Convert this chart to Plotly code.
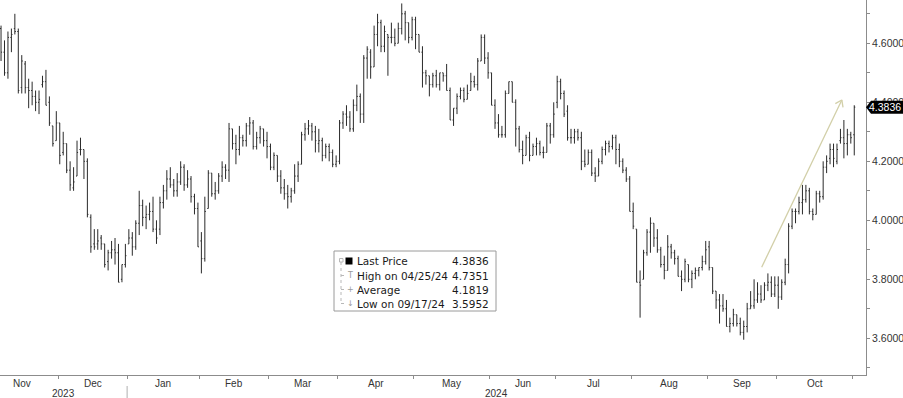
import plotly.graph_objects as go

# ---------------- data (US 10Y yield, daily OHLC bars) ----------------
month_labels = ["Nov", "Dec", "Jan", "Feb", "Mar", "Apr", "May", "Jun", "Jul", "Aug", "Sep", "Oct"]
year_labels = ["2023", "2024"]
nov_days_before_window = 4  # Nov 2023 sessions that fall before the first bar

nov23 = [(4.65, 4.66, 4.54, 4.57), (4.57, 4.61, 4.49, 4.50), (4.50, 4.64, 4.48, 4.62), (4.62, 4.65, 4.57, 4.63),
         (4.65, 4.70, 4.63, 4.64), (4.64, 4.65, 4.43, 4.44), (4.45, 4.56, 4.43, 4.54), (4.53, 4.54, 4.43, 4.45),
         (4.45, 4.48, 4.38, 4.44), (4.44, 4.47, 4.39, 4.42), (4.42, 4.44, 4.37, 4.40), (4.40, 4.44, 4.36, 4.41),
         (4.46, 4.49, 4.45, 4.47), (4.47, 4.51, 4.39, 4.39), (4.40, 4.42, 4.32, 4.33), (4.32, 4.32, 4.25, 4.26),
         (4.27, 4.37, 4.27, 4.33)]
dec23 = [(4.33, 4.33, 4.19, 4.22), (4.23, 4.30, 4.22, 4.26), (4.26, 4.26, 4.16, 4.17), (4.17, 4.20, 4.10, 4.12),
         (4.11, 4.18, 4.10, 4.13), (4.15, 4.27, 4.15, 4.23), (4.24, 4.28, 4.22, 4.24), (4.24, 4.24, 4.14, 4.20),
         (4.20, 4.21, 4.01, 4.02), (4.01, 4.02, 3.89, 3.91), (3.92, 3.97, 3.90, 3.91), (3.92, 3.97, 3.90, 3.93),
         (3.94, 3.95, 3.90, 3.92), (3.92, 3.92, 3.84, 3.85), (3.86, 3.90, 3.83, 3.89), (3.89, 3.93, 3.87, 3.90),
         (3.90, 3.94, 3.85, 3.89), (3.89, 3.92, 3.79, 3.79), (3.80, 3.85, 3.79, 3.85), (3.85, 3.92, 3.84, 3.88)]
jan24 = [(3.92, 3.97, 3.92, 3.94), (3.94, 3.96, 3.88, 3.91), (3.91, 4.00, 3.90, 3.99), (3.99, 4.10, 3.95, 4.05),
         (4.05, 4.07, 3.98, 4.01), (4.01, 4.05, 3.97, 4.02), (4.02, 4.06, 4.00, 4.03), (4.03, 4.08, 3.96, 3.97),
         (3.97, 4.00, 3.92, 3.94), (3.97, 4.08, 3.95, 4.06), (4.06, 4.12, 4.04, 4.10), (4.10, 4.17, 4.07, 4.14),
         (4.14, 4.18, 4.11, 4.12), (4.12, 4.14, 4.08, 4.10), (4.10, 4.16, 4.08, 4.13), (4.13, 4.20, 4.12, 4.18),
         (4.18, 4.19, 4.10, 4.12), (4.12, 4.17, 4.11, 4.14), (4.14, 4.15, 4.06, 4.08), (4.08, 4.09, 4.02, 4.04),
         (4.04, 4.06, 3.91, 3.91)]
feb24 = [(3.93, 3.96, 3.82, 3.87), (3.87, 4.08, 3.86, 4.03), (4.04, 4.17, 4.04, 4.16), (4.16, 4.16, 4.08, 4.09),
         (4.09, 4.13, 4.07, 4.10), (4.10, 4.16, 4.09, 4.15), (4.15, 4.20, 4.13, 4.18), (4.18, 4.19, 4.14, 4.17),
         (4.17, 4.33, 4.13, 4.31), (4.31, 4.31, 4.24, 4.26), (4.26, 4.29, 4.19, 4.24), (4.24, 4.32, 4.22, 4.28),
         (4.28, 4.29, 4.25, 4.27), (4.27, 4.33, 4.25, 4.32), (4.32, 4.35, 4.29, 4.33), (4.33, 4.34, 4.24, 4.25),
         (4.25, 4.30, 4.24, 4.28), (4.28, 4.32, 4.26, 4.31), (4.31, 4.31, 4.25, 4.27), (4.27, 4.30, 4.21, 4.25)]
mar24 = [(4.25, 4.26, 4.17, 4.18), (4.18, 4.23, 4.17, 4.22), (4.22, 4.22, 4.13, 4.15), (4.15, 4.17, 4.09, 4.11),
         (4.11, 4.14, 4.07, 4.09), (4.09, 4.12, 4.04, 4.08), (4.08, 4.11, 4.06, 4.10), (4.10, 4.19, 4.09, 4.15),
         (4.15, 4.20, 4.13, 4.19), (4.19, 4.30, 4.19, 4.29), (4.29, 4.33, 4.27, 4.31), (4.31, 4.34, 4.29, 4.32),
         (4.32, 4.33, 4.27, 4.30), (4.30, 4.32, 4.23, 4.27), (4.26, 4.31, 4.23, 4.27), (4.27, 4.28, 4.20, 4.22),
         (4.22, 4.26, 4.21, 4.25), (4.25, 4.26, 4.20, 4.23), (4.23, 4.24, 4.18, 4.19), (4.19, 4.22, 4.18, 4.20)]
apr24 = [(4.20, 4.34, 4.19, 4.33), (4.33, 4.37, 4.31, 4.36), (4.36, 4.39, 4.32, 4.35), (4.35, 4.37, 4.30, 4.31),
         (4.31, 4.41, 4.30, 4.39), (4.39, 4.46, 4.37, 4.42), (4.42, 4.43, 4.33, 4.36), (4.36, 4.56, 4.33, 4.55),
         (4.55, 4.59, 4.48, 4.58), (4.57, 4.58, 4.48, 4.52), (4.52, 4.66, 4.52, 4.63), (4.63, 4.70, 4.59, 4.67),
         (4.67, 4.68, 4.57, 4.59), (4.59, 4.66, 4.57, 4.64), (4.63, 4.63, 4.49, 4.62), (4.62, 4.67, 4.60, 4.62),
         (4.62, 4.65, 4.59, 4.60), (4.60, 4.67, 4.60, 4.65), (4.65, 4.7351, 4.63, 4.70), (4.70, 4.71, 4.61, 4.67),
         (4.67, 4.67, 4.60, 4.62), (4.62, 4.69, 4.61, 4.68)]
may24 = [(4.68, 4.69, 4.58, 4.63), (4.63, 4.63, 4.57, 4.57), (4.57, 4.59, 4.45, 4.50), (4.50, 4.51, 4.46, 4.49),
         (4.49, 4.49, 4.42, 4.46), (4.46, 4.50, 4.45, 4.49), (4.49, 4.51, 4.45, 4.46), (4.46, 4.50, 4.44, 4.50),
         (4.50, 4.50, 4.47, 4.49), (4.49, 4.53, 4.44, 4.44), (4.44, 4.45, 4.34, 4.34), (4.34, 4.38, 4.32, 4.38),
         (4.38, 4.43, 4.36, 4.42), (4.42, 4.45, 4.41, 4.44), (4.44, 4.45, 4.40, 4.41), (4.41, 4.46, 4.41, 4.43),
         (4.44, 4.50, 4.44, 4.47), (4.47, 4.49, 4.45, 4.46), (4.46, 4.55, 4.44, 4.54), (4.54, 4.63, 4.54, 4.62),
         (4.62, 4.63, 4.53, 4.55), (4.55, 4.57, 4.48, 4.50)]
jun24 = [(4.50, 4.50, 4.39, 4.39), (4.39, 4.41, 4.31, 4.33), (4.33, 4.36, 4.28, 4.29), (4.29, 4.32, 4.28, 4.29),
         (4.29, 4.44, 4.28, 4.43), (4.43, 4.47, 4.43, 4.47), (4.47, 4.47, 4.40, 4.40), (4.40, 4.41, 4.25, 4.31),
         (4.31, 4.32, 4.23, 4.24), (4.24, 4.27, 4.19, 4.22), (4.22, 4.29, 4.22, 4.28), (4.28, 4.30, 4.20, 4.22),
         (4.22, 4.26, 4.22, 4.25), (4.25, 4.28, 4.22, 4.26), (4.26, 4.27, 4.22, 4.23), (4.23, 4.25, 4.21, 4.23),
         (4.23, 4.33, 4.23, 4.32), (4.32, 4.33, 4.26, 4.29), (4.29, 4.40, 4.28, 4.36)]
jul24 = [(4.40, 4.49, 4.38, 4.47), (4.47, 4.48, 4.41, 4.43), (4.43, 4.44, 4.35, 4.36), (4.37, 4.39, 4.27, 4.28),
         (4.28, 4.31, 4.26, 4.28), (4.28, 4.31, 4.26, 4.30), (4.30, 4.31, 4.27, 4.28), (4.28, 4.30, 4.17, 4.20),
         (4.20, 4.24, 4.18, 4.19), (4.19, 4.24, 4.19, 4.23), (4.23, 4.24, 4.15, 4.16), (4.16, 4.18, 4.13, 4.15),
         (4.15, 4.21, 4.15, 4.20), (4.20, 4.25, 4.19, 4.24), (4.24, 4.27, 4.22, 4.26), (4.26, 4.27, 4.23, 4.25),
         (4.25, 4.29, 4.24, 4.28), (4.28, 4.29, 4.19, 4.24), (4.24, 4.26, 4.18, 4.20), (4.20, 4.21, 4.16, 4.17),
         (4.17, 4.18, 4.13, 4.14), (4.14, 4.15, 4.03, 4.03)]
aug24 = [(4.03, 4.06, 3.97, 3.98), (3.97, 3.97, 3.79, 3.79), (3.79, 3.83, 3.67, 3.78), (3.80, 3.90, 3.80, 3.89),
         (3.89, 3.97, 3.88, 3.96), (3.96, 4.01, 3.89, 3.99), (3.99, 3.99, 3.91, 3.94), (3.94, 3.97, 3.89, 3.90),
         (3.90, 3.91, 3.84, 3.85), (3.85, 3.88, 3.80, 3.83), (3.83, 3.95, 3.83, 3.91), (3.91, 3.92, 3.87, 3.89),
         (3.89, 3.90, 3.85, 3.87), (3.87, 3.88, 3.81, 3.81), (3.81, 3.83, 3.76, 3.80), (3.80, 3.87, 3.79, 3.86),
         (3.85, 3.85, 3.79, 3.80), (3.80, 3.83, 3.77, 3.82), (3.82, 3.84, 3.80, 3.83), (3.83, 3.84, 3.81, 3.84),
         (3.84, 3.88, 3.83, 3.86), (3.86, 3.93, 3.85, 3.90)]
sep24 = [(3.91, 3.93, 3.83, 3.84), (3.84, 3.84, 3.75, 3.76), (3.76, 3.76, 3.70, 3.73), (3.73, 3.75, 3.65, 3.71),
         (3.71, 3.75, 3.69, 3.70), (3.70, 3.73, 3.64, 3.64), (3.64, 3.67, 3.62, 3.65), (3.65, 3.70, 3.64, 3.68),
         (3.68, 3.68, 3.64, 3.65), (3.65, 3.67, 3.61, 3.62), (3.62, 3.66, 3.5952, 3.64), (3.64, 3.72, 3.62, 3.70),
         (3.70, 3.76, 3.70, 3.71), (3.71, 3.80, 3.70, 3.73), (3.73, 3.79, 3.72, 3.75), (3.75, 3.78, 3.72, 3.73),
         (3.73, 3.79, 3.73, 3.78), (3.78, 3.82, 3.76, 3.79), (3.79, 3.81, 3.74, 3.75), (3.75, 3.81, 3.74, 3.78)]
oct24 = [(3.78, 3.81, 3.70, 3.74), (3.74, 3.80, 3.73, 3.79), (3.79, 3.87, 3.78, 3.85), (3.85, 3.99, 3.82, 3.98),
         (3.98, 4.04, 3.97, 4.03), (4.03, 4.04, 3.99, 4.03), (4.03, 4.08, 4.02, 4.06), (4.06, 4.12, 4.02, 4.07),
         (4.07, 4.12, 4.06, 4.10), (4.10, 4.11, 4.02, 4.03), (4.03, 4.04, 4.00, 4.02), (4.02, 4.10, 4.02, 4.09),
         (4.09, 4.10, 4.06, 4.08), (4.08, 4.20, 4.07, 4.18), (4.18, 4.22, 4.16, 4.20), (4.21, 4.26, 4.19, 4.24),
         (4.24, 4.26, 4.18, 4.21), (4.20, 4.26, 4.19, 4.24), (4.27, 4.31, 4.26, 4.28), (4.28, 4.34, 4.21, 4.26),
         (4.26, 4.31, 4.22, 4.29), (4.29, 4.30, 4.26, 4.28)]
nov24 = [(4.29, 4.39, 4.22, 4.3836)]

y_tick_values = [3.6, 3.8, 4.0, 4.2, 4.4, 4.6]
y_minor_values = [3.5, 3.7, 3.9, 4.1, 4.3, 4.5, 4.7]

legend_rows = [("Last Price", "4.3836"), ("High on 04/25/24", "4.7351"),
               ("Average", "4.1819"), ("Low on 09/17/24", "3.5952")]

# ---------------- derived ----------------
months = [nov23, dec23, jan24, feb24, mar24, apr24, may24, jun24, jul24, aug24, sep24, oct24]
bars = [b for m in months for b in m] + nov24
opens = [b[0] for b in bars]
highs = [b[1] for b in bars]
lows = [b[2] for b in bars]
closes = [b[3] for b in bars]
xs = list(range(len(bars)))

month_starts, s = [], 0
for m in months:
    month_starts.append(s)
    s += len(m)
month_ends = [st + len(m) - 1 for st, m in zip(month_starts, months)]
boundaries = [e + 0.5 for e in month_ends]
label_centers = []
for i, (st, en) in enumerate(zip(month_starts, month_ends)):
    first = st - nov_days_before_window if i == 0 else st
    label_centers.append((first + en) / 2)

# ---------------- geometry ----------------
W, H = 903, 398
ML, MR, MT, MB = 0, 37, 0, 23
PW, PH = W - ML - MR, H - MT - MB
X0, X1 = -0.3, 250.4
Y0, Y1 = 3.4756, 4.7468
pxx = PW / (X1 - X0)
pxy = PH / (Y1 - Y0)


def px(xp):
    return xp / PW


def py(yp):
    return 1 - yp / PH


BAR = "#2a2a2a"
AX = "#8c8c8c"
TXT = "#333333"
AXFONT = dict(family="Liberation Sans, Arial, sans-serif", size=10.5, color=TXT)
XFONT = dict(family="Liberation Sans, Arial, sans-serif", size=10, color=TXT)

fig = go.Figure(go.Ohlc(
    x=xs, open=opens, high=highs, low=lows, close=closes,
    increasing=dict(line=dict(color=BAR, width=1)),
    decreasing=dict(line=dict(color=BAR, width=1)),
    tickwidth=0.3, showlegend=False, hoverinfo="skip"))

fig.update_layout(
    width=W, height=H, margin=dict(l=ML, r=MR, t=MT, b=MB),
    paper_bgcolor="white", plot_bgcolor="white", showlegend=False,
    xaxis=dict(range=[X0, X1], showgrid=False, zeroline=False, showline=True, linecolor=AX,
               linewidth=1, tickmode="array", tickvals=boundaries, ticks="outside", ticklen=3,
               tickcolor=AX, showticklabels=False, rangeslider=dict(visible=False)),
    yaxis=dict(range=[Y0, Y1], side="right", showgrid=False, zeroline=False, showline=True,
               linecolor=AX, linewidth=1, tickmode="array", tickvals=y_tick_values,
               ticktext=[f"{v:.4f}" for v in y_tick_values], ticks="outside", ticklen=3,
               tickcolor=AX, tickfont=AXFONT, ticklabelstandoff=0, automargin=False,
               minor=dict(tickvals=y_minor_values, ticks="outside", ticklen=3, tickcolor=AX)),
)

ann = []
shapes = []
for lab, c in zip(month_labels, label_centers):
    ann.append(dict(x=c, xref="x", y=0, yref="paper", text=lab, showarrow=False,
                    yanchor="middle", yshift=-8, font=XFONT))
year_spans = [(X0, boundaries[1]), (boundaries[1], X1)]
for lab, (a, b) in zip(year_labels, year_spans):
    ann.append(dict(x=(a + b) / 2, xref="x", y=0, yref="paper", text=lab, showarrow=False,
                    yanchor="middle", yshift=-18, font=XFONT))
shapes.append(dict(type="line", xref="x", yref="paper", x0=boundaries[1], x1=boundaries[1],
                   y0=py(386), y1=py(398), line=dict(color="#b0b0b0", width=1)))

# trend arrow
ax0, ay0 = 220.2, 3.841
ax1, ay1 = 243.4, 4.408
ARC = "#d2cfa8"
shapes.append(dict(type="line", xref="x", yref="y", x0=ax0, y0=ay0, x1=ax1, y1=ay1,
                   line=dict(color=ARC, width=1.3)))
for wx, wy in [(-6.5, 3.7), (1.2, 7.4)]:
    shapes.append(dict(type="line", xref="x", yref="y", x0=ax1, y0=ay1,
                       x1=ax1 + wx / pxx, y1=ay1 - wy / pxy, line=dict(color=ARC, width=1.3)))

# last price tag on the right axis
last = closes[-1]
hh = 6.5 / pxy
path = (f"M {px(PW)} {last} L {px(PW + 5)} {last + hh} L {px(W)} {last + hh} "
        f"L {px(W)} {last - hh} L {px(PW + 5)} {last - hh} Z")
shapes.append(dict(type="path", xref="paper", yref="y", path=path, fillcolor="black",
                   line=dict(color="black", width=0), layer="above"))
ann.append(dict(x=px(W - 1), xref="paper", y=last, yref="y", text=f"{last:.4f}", showarrow=False,
                xanchor="right", yanchor="middle", borderpad=0,
                font=dict(family="Liberation Sans, Arial, sans-serif", size=10.5, color="white")))

# legend box
LX0, LX1, LY0, LY1 = 334, 496, 251, 311
shapes.append(dict(type="rect", xref="paper", yref="paper", x0=px(LX0), x1=px(LX1), y0=py(LY1), y1=py(LY0),
                   fillcolor="white", line=dict(color="#9a9a9a", width=1), layer="above"))
row_y = [261, 275.5, 289.5, 303.5]
LEGFONT = dict(family="DejaVu Sans, Verdana, sans-serif", size=10.5, color="#1a1a1a")
for (lab, val), ry in zip(legend_rows, row_y):
    ann.append(dict(x=px(355), xref="paper", y=py(ry), yref="paper", text=lab, showarrow=False,
                    xanchor="left", yanchor="middle", font=LEGFONT))
    ann.append(dict(x=px(491), xref="paper", y=py(ry), yref="paper", text=val, showarrow=False,
                    xanchor="right", yanchor="middle", font=LEGFONT))
# legend tree / icons
TREE = "#b8b8b8"
shapes.append(dict(type="line", xref="paper", yref="paper", x0=px(341), x1=px(341), y0=py(262), y1=py(303.5),
                   line=dict(color=TREE, width=1, dash="dot"), layer="above"))
for ry in row_y[1:]:
    shapes.append(dict(type="line", xref="paper", yref="paper", x0=px(341), x1=px(346), y0=py(ry), y1=py(ry),
                       line=dict(color=TREE, width=1, dash="dot"), layer="above"))
shapes.append(dict(type="rect", xref="paper", yref="paper", x0=px(339.5), x1=px(343), y0=py(262), y1=py(258.5),
                   fillcolor="white", line=dict(color=TREE, width=1), layer="above"))
shapes.append(dict(type="rect", xref="paper", yref="paper", x0=px(345.5), x1=px(352.5), y0=py(264.5), y1=py(257.5),
                   fillcolor="black", line=dict(color="black", width=0), layer="above"))
for sym, ry in zip(["T", "+", "↓"], row_y[1:]):
    ann.append(dict(x=px(350), xref="paper", y=py(ry), yref="paper", text=sym, showarrow=False,
                    xanchor="center", yanchor="middle",
                    font=dict(family="DejaVu Sans, sans-serif", size=8, color="#9a9a9a")))

fig.update_layout(annotations=ann, shapes=shapes)
fig.write_html("out.html", config={"displayModeBar": False},
               post_script="document.body.style.margin='0';document.body.style.overflow='hidden';")
